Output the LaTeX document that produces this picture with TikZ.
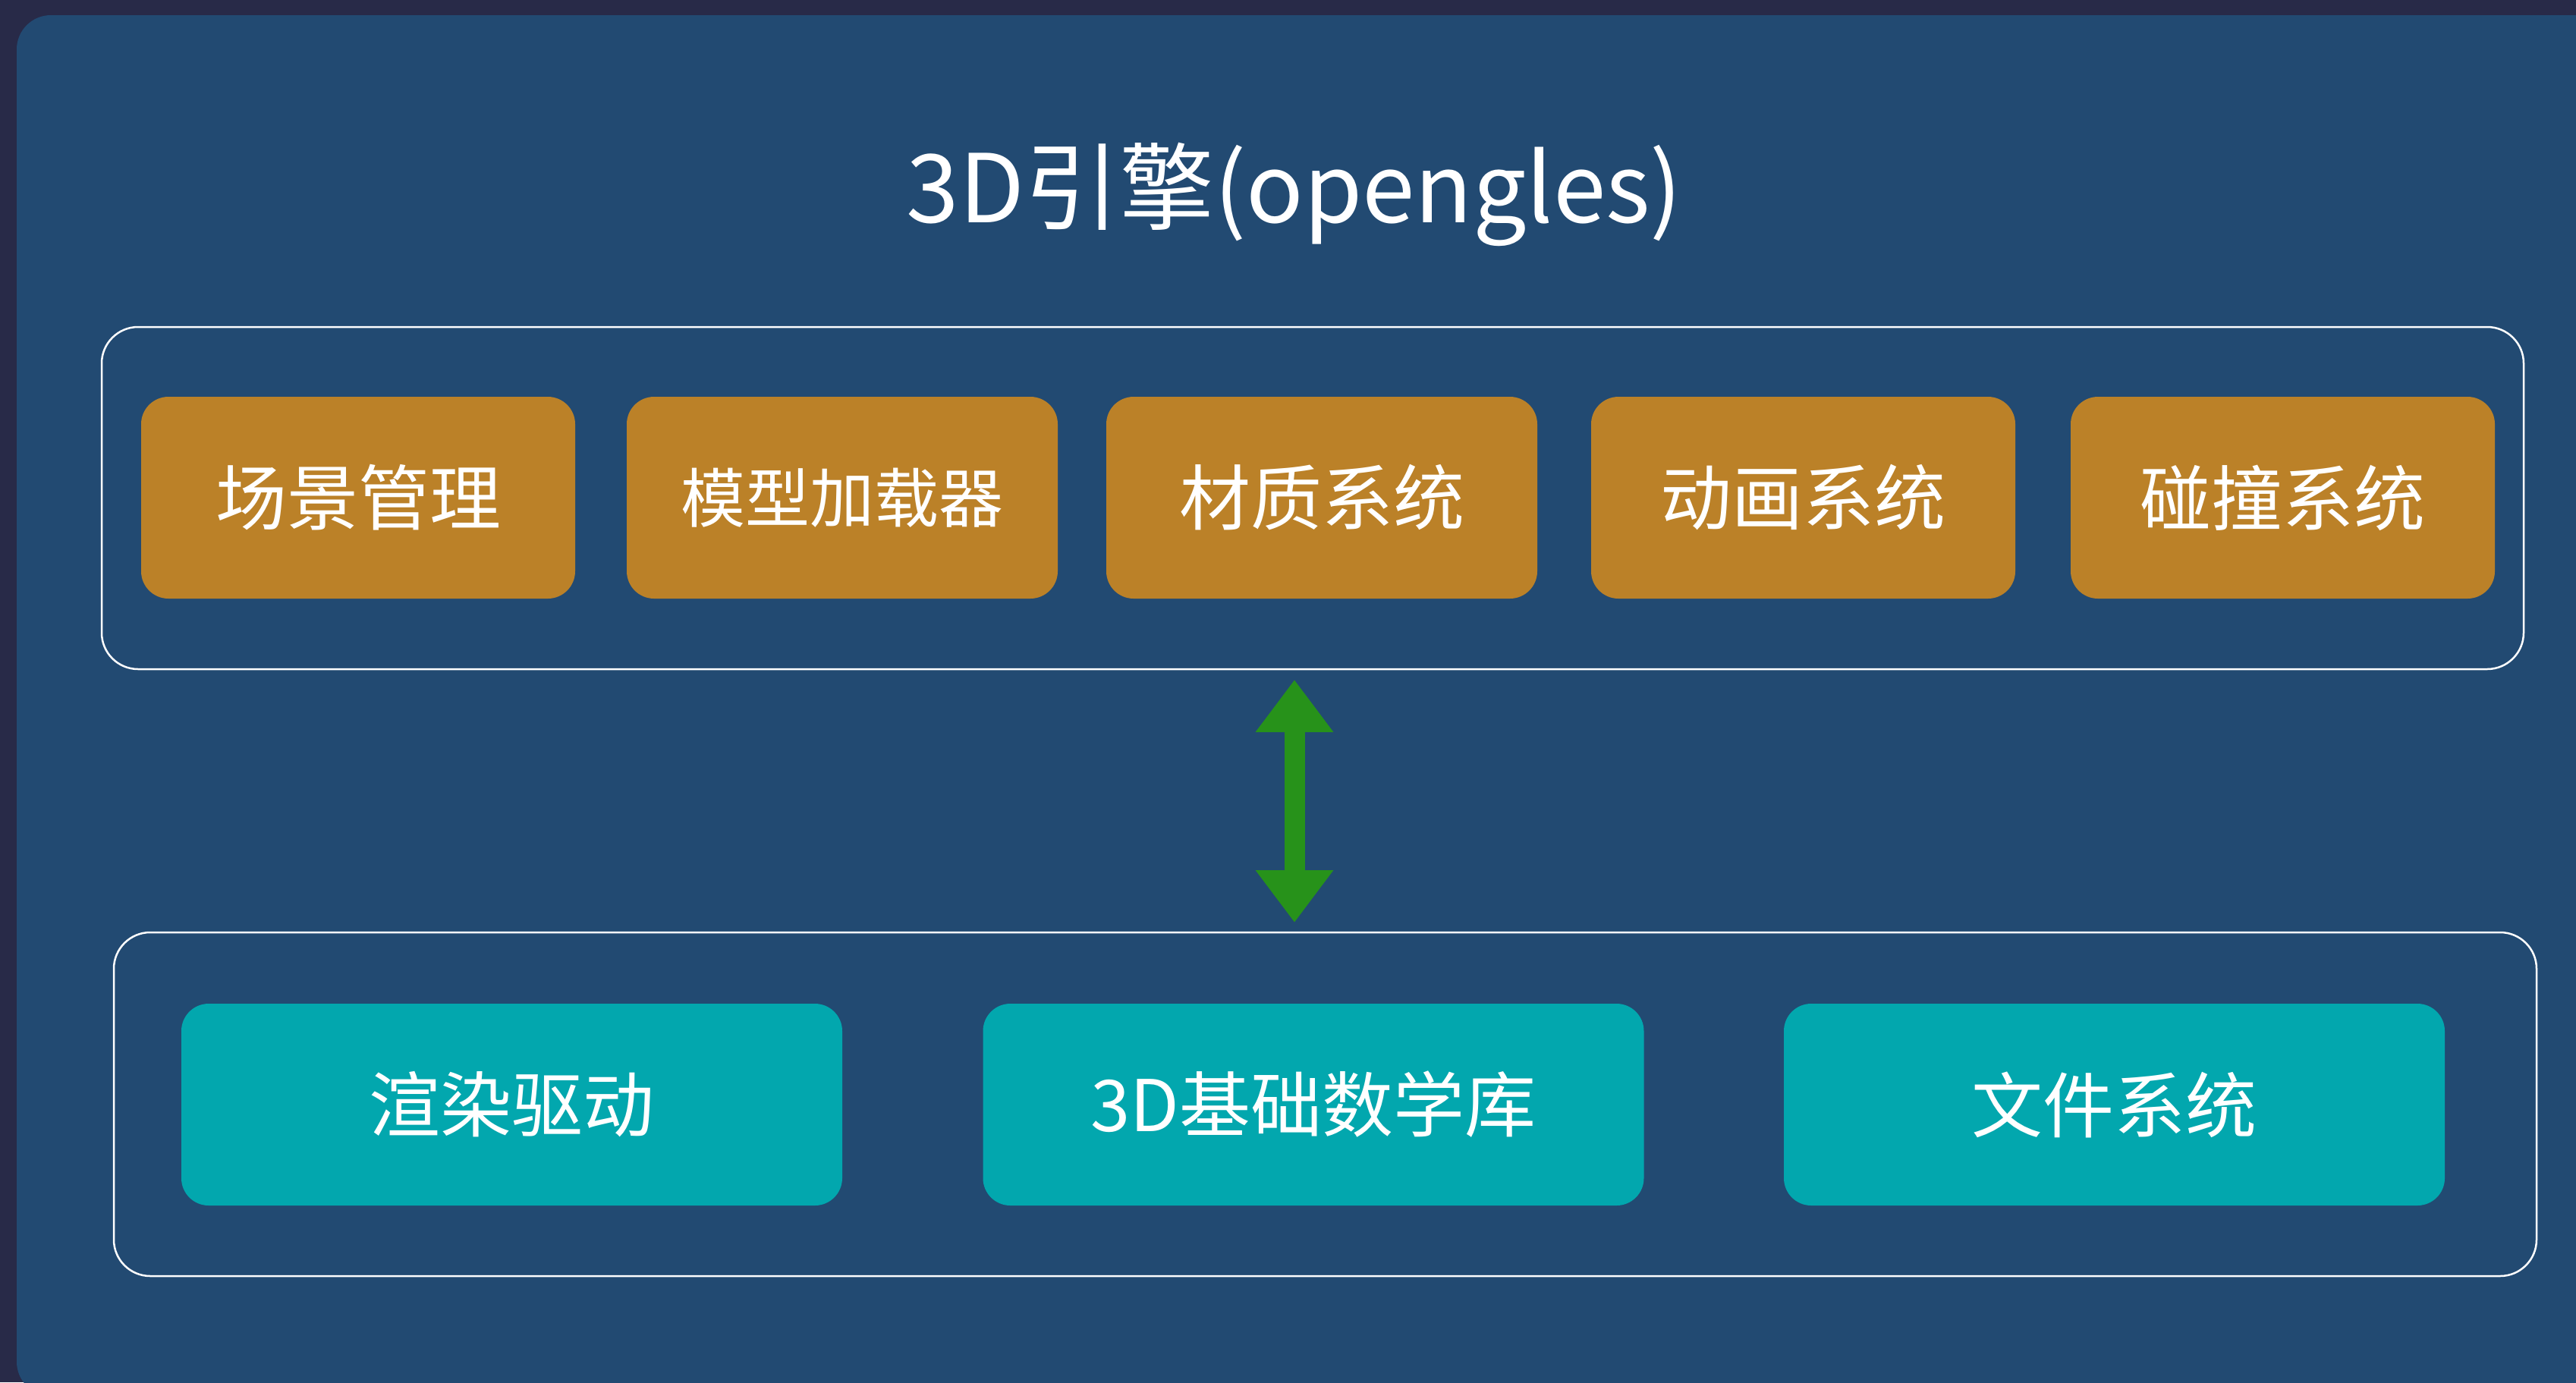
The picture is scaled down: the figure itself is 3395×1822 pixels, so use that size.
\documentclass[tikz,border=0pt]{standalone}
\usepackage{fontspec}
\setmainfont{Noto Sans CJK SC}
\usetikzlibrary{arrows.meta}
\definecolor{bgdark}{HTML}{282A48}
\definecolor{panel}{HTML}{224A72}
\definecolor{ochre}{HTML}{BB8128}
\definecolor{tealbox}{HTML}{02A7AE}
\definecolor{arrowgreen}{HTML}{27921A}
\tikzset{
  container/.style={draw=white, line width=1.25pt, rounded corners=24pt, inner sep=0pt, outer sep=0pt},
  modbox/.style={fill=ochre, rounded corners=18pt, inner sep=0pt, outer sep=0pt, minimum height=133pt, text=white, font=\fontsize{47}{56}\selectfont},
  basebox/.style={fill=tealbox, rounded corners=18pt, inner sep=0pt, outer sep=0pt, minimum height=133pt, minimum width=435.5pt, text=white, font=\fontsize{47}{56}\selectfont},
  dblarrow/.style={draw=arrowgreen, line width=13.5pt, {Triangle[width=49pt,length=34.5pt]}-{Triangle[width=49pt,length=34.5pt]}}
}
\begin{document}
\begin{tikzpicture}[x=0.5pt,y=-0.5pt]
\useasboundingbox (0,0) rectangle (3395,1822);
\fill[bgdark] (0,0) rectangle (3395,1822);
\fill[panel, rounded corners=22.5pt] (22,20) rectangle (3460,1840);

\node[text=white, font=\fontsize{62.5}{75}\selectfont, anchor=base] (title) at (1706,293) {3D引擎(opengles)};

\node[container, minimum width=1596pt, minimum height=225.5pt] (topc) at (1730,656.5) {};
\node[container, minimum width=1596.5pt, minimum height=226.5pt] (botc) at (1746.5,1455.5) {};

\node[modbox, minimum width=286pt] (m1) at (472,656) {场景管理};
\node[modbox, minimum width=284pt, font=\fontsize{42.5}{50}\selectfont] (m2) at (1110,656) {模型加载器};
\node[modbox, minimum width=284pt] (m3) at (1742,656) {材质系统};
\node[modbox, minimum width=279.5pt] (m4) at (2376.5,656) {动画系统};
\node[modbox, minimum width=279.5pt] (m5) at (3008.5,656) {碰撞系统};

\node[basebox] (b1) at (674.5,1456) {渲染驱动};
\node[basebox] (b2) at (1731,1456) {3D基础数学库};
\node[basebox] (b3) at (2786.5,1456) {文件系统};

\coordinate (atop) at (1706,896);
\coordinate (abot) at (1706,1216);
\draw[dblarrow] (atop) -- (abot);
\end{tikzpicture}
\end{document}
